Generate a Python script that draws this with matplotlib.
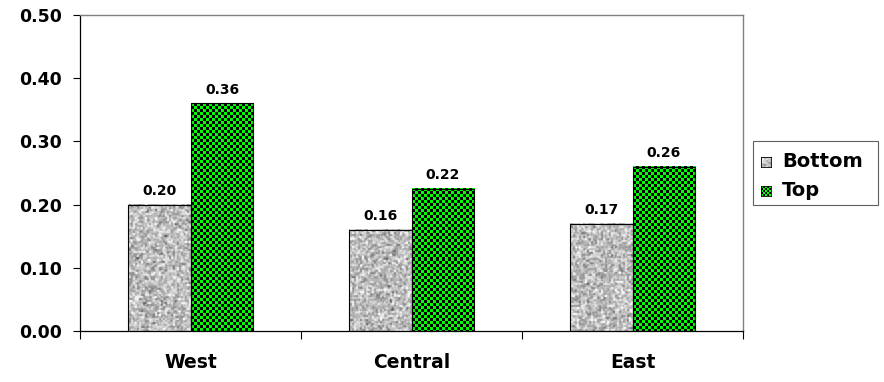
import numpy as np
import matplotlib
matplotlib.use('Agg')
import matplotlib.pyplot as plt
from matplotlib.patches import Rectangle

# ── Data ──────────────────────────────────────────────────────────
regions = ['West', 'Central', 'East']
bottom_vals = [0.20, 0.16, 0.17]
top_vals = [0.36, 0.225, 0.26]
bottom_labels = ['0.20', '0.16', '0.17']
top_labels = ['0.36', '0.22', '0.26']
yticks = [0.0, 0.1, 0.2, 0.3, 0.4, 0.5]
series_names = ['Bottom', 'Top']

W, H = 884, 382
plt.rcParams['font.family'] = 'DejaVu Sans'
plt.rcParams['font.weight'] = 'bold'

rng = np.random.default_rng(3)


def granite(h, w):
    # speckled gray texture (coarser grain than pixel noise)
    hh, ww = h // 2 + 3, w // 2 + 3
    n = rng.normal(0.0, 1.0, (hh, ww))
    n = np.kron(n, np.ones((2, 2)))
    n = n + 0.6 * rng.normal(0.0, 1.0, n.shape)
    n = (n[:-2, 1:-1] + n[2:, 1:-1] + n[1:-1, :-2] + n[1:-1, 2:] + 2 * n[1:-1, 1:-1]) / 6
    n = n[:h, :w]
    g = np.clip(0.74 + 0.13 * n, 0.4, 0.95)
    return np.dstack([g, g, g])


def checker(h, w, s=3):
    i, j = np.indices((h, w))
    on = ((i // s + j // s) % 2) == 0
    img = np.zeros((h, w, 3))
    img[on] = (0.0, 1.0, 0.0)
    return img


fig = plt.figure(figsize=(W / 100, H / 100), dpi=100)
ax = fig.add_axes([80 / W, 51 / H, 663 / W, 316 / H])

x = np.arange(len(regions))
bw = 0.285
ymax = 0.5
px_per_x = 663 / 3
px_per_y = 316 / ymax

for vals, labels, off, tex in [(bottom_vals, bottom_labels, -bw / 2, granite),
                               (top_vals, top_labels, bw / 2, checker)]:
    bars = ax.bar(x + off, vals, bw, facecolor='none', edgecolor='black',
                  linewidth=0.8, zorder=3)
    for b, v, lab in zip(bars, vals, labels):
        x0 = b.get_x()
        wpx = max(int(round(bw * px_per_x)), 1)
        hpx = max(int(round(v * px_per_y)), 1)
        ax.imshow(tex(hpx, wpx), extent=(x0, x0 + bw, 0, v), aspect='auto',
                  interpolation='nearest', zorder=2)
        ax.annotate(lab, (x0 + bw / 2, v), xytext=(0, 5), textcoords='offset points',
                    ha='center', va='bottom', fontsize=10, fontweight='bold')

ax.set_xlim(-0.5, 2.5)
ax.set_ylim(0, ymax)
ax.set_yticks(yticks)
ax.set_yticklabels([f'{t:.2f}' for t in yticks], fontsize=12.5, fontweight='bold')
ax.set_xticks(x)
ax.set_xticklabels(regions, fontsize=13.5, fontweight='bold')
ax.set_xticks([-0.5, 0.5, 1.5, 2.5], minor=True)
ax.tick_params(axis='x', which='major', length=0, pad=16)
ax.tick_params(axis='x', which='minor', length=6, width=0.8, direction='out')
ax.tick_params(axis='y', length=5, width=0.8, direction='out', pad=8)

for s in ['top', 'right']:
    ax.spines[s].set_color('#808080')
    ax.spines[s].set_linewidth(1.0)
for s in ['left', 'bottom']:
    ax.spines[s].set_color('black')
    ax.spines[s].set_linewidth(0.9)

# ── Legend (drawn by hand so swatches carry the textures) ─────────
fig.add_artist(Rectangle((753 / W, 1 - 205 / H), 125 / W, 64 / H,
                         transform=fig.transFigure, fill=False,
                         edgecolor='#606060', linewidth=0.8))
for name, tex, ycen in [(series_names[0], granite, 162), (series_names[1], checker, 191)]:
    sw = fig.add_axes([761 / W, 1 - (ycen + 5) / H, 10 / W, 10 / H])
    sw.imshow(tex(10, 10) if tex is granite else checker(10, 10, s=2),
              interpolation='nearest', aspect='auto')
    sw.set_xticks([])
    sw.set_yticks([])
    for sp in sw.spines.values():
        sp.set_linewidth(0.6)
    fig.text(782 / W, 1 - ycen / H, name, fontsize=14, fontweight='bold',
             ha='left', va='center')

fig.savefig('out.png', dpi=100)
